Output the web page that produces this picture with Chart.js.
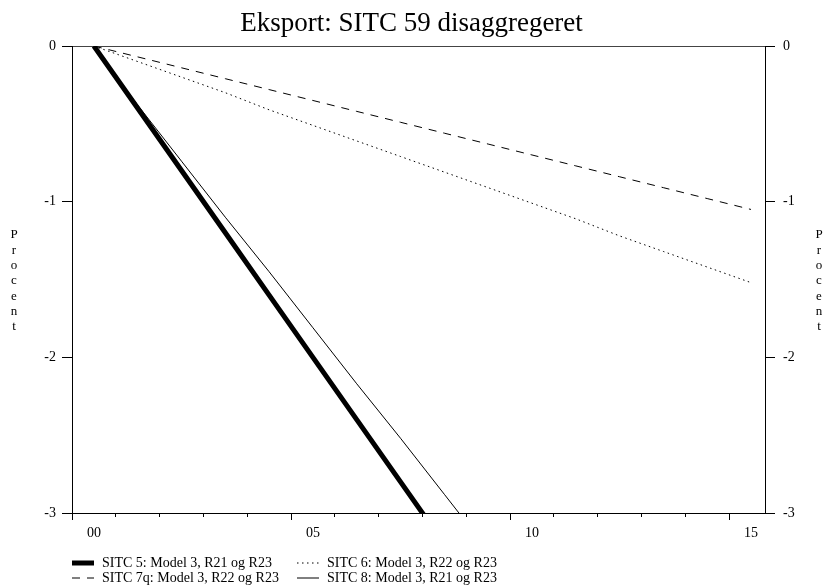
<!DOCTYPE html>
<html>
<head>
<meta charset="utf-8">
<script src="https://cdn.jsdelivr.net/npm/chart.js@4/dist/chart.umd.min.js"></script>
<style>
  html, body { margin: 0; padding: 0; background: #fff; }
  #wrap { width: 823px; height: 585px; position: relative; }
</style>
</head>
<body>
<div id="wrap"><canvas id="grafico"></canvas></div>
<script>
// data (mid-year points)
const years = [2000.5, 2001.5, 2002.5, 2003.5, 2004.5, 2005.5, 2006.5, 2007.5,
               2008.5, 2009.5, 2010.5, 2011.5, 2012.5, 2013.5, 2014.5, 2015.5];
const sitc5  = [0, -0.40, -0.80, -1.20, -1.60, -2.00, -2.40, -2.80, -3.20, null, null, null, null, null, null, null];
const sitc6  = [0, -0.10, -0.20, -0.30, -0.41, -0.51, -0.61, -0.71, -0.81, -0.91, -1.01, -1.11, -1.22, -1.32, -1.42, -1.52];
const sitc7q = [0, -0.07, -0.14, -0.21, -0.28, -0.35, -0.42, -0.49, -0.56, -0.63, -0.70, -0.77, -0.84, -0.91, -0.98, -1.05];
const sitc8  = [0, -0.38, -0.74, -1.10, -1.45, -1.81, -2.17, -2.52, -2.88, -3.24, null, null, null, null, null, null];

const seriesNames = ['SITC 5: Model 3, R21 og R23', 'SITC 6: Model 3, R22 og R23',
                     'SITC 7q: Model 3, R22 og R23', 'SITC 8: Model 3, R21 og R23'];
const yTicks = [0, -1, -2, -3];

const serif = "'Liberation Serif', 'Times New Roman', serif";

function pts(vals) {
  return years.map((x, i) => ({ x: x, y: vals[i] }));
}

// legend in two columns + "Procent" written letter by letter
const ekstraTekst = {
  id: 'ekstraTekst',
  afterDraw(chart) {
    const ctx = chart.ctx;
    ctx.save();
    ctx.fillStyle = '#000';
    ctx.font = '13px ' + serif;
    ctx.textAlign = 'center';
    ctx.textBaseline = 'middle';
    'Procent'.split('').forEach((ch, i) => {
      ctx.fillText(ch, 14, 235 + i * 15.3);
      ctx.fillText(ch, 819, 235 + i * 15.3);
    });

    ctx.font = '14px ' + serif;
    ctx.textAlign = 'left';
    const colX = [72, 297];
    const rowY = [563, 578];
    chart.data.datasets.forEach((ds, i) => {
      const x = colX[i % 2], y = rowY[Math.floor(i / 2)];
      ctx.save();
      ctx.strokeStyle = ds.borderColor;
      ctx.lineWidth = ds.borderWidth;
      ctx.setLineDash(ds.borderDash || []);
      ctx.beginPath();
      ctx.moveTo(x, y);
      ctx.lineTo(x + 22, y);
      ctx.stroke();
      ctx.restore();
      ctx.fillText(ds.label, x + 30, y);
    });
    ctx.restore();
  }
};

const ctx = document.getElementById('grafico').getContext('2d');
const grafico = new Chart(ctx, {
  type: 'line',
  data: {
    datasets: [
      { label: seriesNames[0], data: pts(sitc5), borderColor: '#000', borderWidth: 5, borderDash: [] },
      { label: seriesNames[1], data: pts(sitc6), borderColor: '#000', borderWidth: 1, borderDash: [1.5, 3.5] },
      { label: seriesNames[2], data: pts(sitc7q), borderColor: '#000', borderWidth: 1, borderDash: [8, 7] },
      { label: seriesNames[3], data: pts(sitc8), borderColor: '#000', borderWidth: 1, borderDash: [] }
    ]
  },
  options: {
    responsive: true,
    maintainAspectRatio: false,
    animation: false,
    layout: { padding: 0 },
    elements: { point: { radius: 0 }, line: { tension: 0 } },
    datasets: { line: { clip: 0, spanGaps: false } },
    plugins: {
      legend: { display: false },
      tooltip: { enabled: false },
      title: {
        display: true,
        text: 'Eksport: SITC 59 disaggregeret',
        color: '#000',
        font: { family: serif, size: 27, weight: 'normal', lineHeight: 1.2 },
        padding: { top: 8, bottom: 5.6 }
      }
    },
    scales: {
      x: {
        type: 'linear',
        min: 2000,
        max: 2015.82,
        afterFit: s => { s.height = 72; },
        border: { display: true, color: '#000', width: 1 },
        grid: {
          drawOnChartArea: false,
          tickLength: 7,
          tickColor: '#000',
          tickBorderDash: c => (c.tick && c.tick.value % 5 !== 0) ? [3, 20] : []
        },
        ticks: {
          stepSize: 1,
          autoSkip: false,
          includeBounds: false,
          maxRotation: 0,
          labelOffset: 22,
          padding: 5,
          color: '#000',
          font: { family: serif, size: 14 },
          callback: v => v % 5 === 0 ? String(v % 100).padStart(2, '0') : ''
        }
      },
      y: {
        position: 'left',
        min: -3,
        max: 0,
        afterFit: s => { s.width = 72; },
        afterBuildTicks: s => { s.ticks = yTicks.map(v => ({ value: v })); },
        border: { display: true, color: '#000', width: 1 },
        grid: {
          drawOnChartArea: true,
          color: c => (c.tick && c.tick.value === 0) ? '#444' : 'rgba(0,0,0,0)',
          tickLength: 10,
          tickColor: '#000'
        },
        ticks: { color: '#000', padding: 6, font: { family: serif, size: 14 } }
      },
      y2: {
        position: 'right',
        min: -3,
        max: 0,
        afterFit: s => { s.width = 58; },
        afterBuildTicks: s => { s.ticks = yTicks.map(v => ({ value: v })); },
        border: { display: true, color: '#000', width: 1 },
        grid: { drawOnChartArea: false, tickLength: 10, tickColor: '#000' },
        ticks: { color: '#000', padding: 8, font: { family: serif, size: 14 } }
      }
    }
  },
  plugins: [ekstraTekst]
});
</script>
</body>
</html>
